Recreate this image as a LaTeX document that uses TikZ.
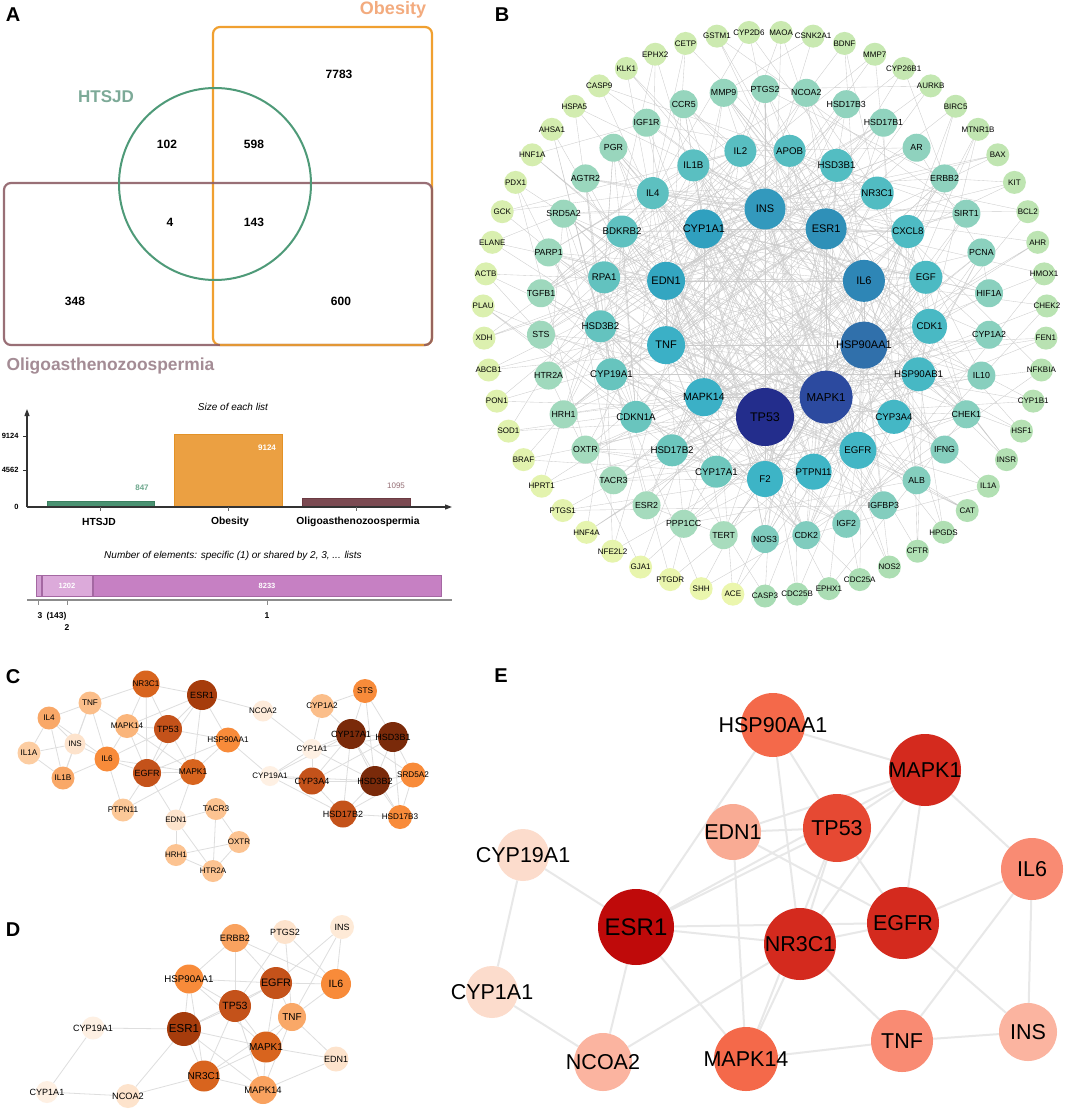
\documentclass[tikz,border=0pt]{standalone}
\usepackage{fontspec}
\setmainfont{Liberation Sans}
\usetikzlibrary{backgrounds,arrows.meta}
\newcommand\myfs[1]{\fontsize{#1}{#1}\selectfont}
% panel A colours
\definecolor{vorange}{HTML}{F0A030}
\definecolor{vbrown}{HTML}{8C5C64}
\definecolor{vgreen}{HTML}{4E9A78}
\definecolor{tobes}{HTML}{F3AB7E}
\definecolor{thts}{HTML}{7DAA98}
\definecolor{toligo}{HTML}{A48C95}
\definecolor{bargreen}{HTML}{4A9272}
\definecolor{bargreenD}{HTML}{3B7F5F}
\definecolor{barorange}{HTML}{EBA042}
\definecolor{barorangeD}{HTML}{E39227}
\definecolor{barbrown}{HTML}{7B4A52}
\definecolor{barbrownD}{HTML}{6B3A42}
\definecolor{lil1}{HTML}{D3A0D3}
\definecolor{lil2}{HTML}{DCAADA}
\definecolor{lil3}{HTML}{C680C3}
\definecolor{lilD}{HTML}{A468A2}
% panel B colours
\definecolor{ogreen}{HTML}{A8DCB4}
\definecolor{oyellow}{HTML}{EBF6AD}
\definecolor{mdark}{HTML}{7FCCBE}
\definecolor{mlight}{HTML}{A8DCBD}
\definecolor{rdark}{HTML}{3DB4C6}
\definecolor{rlight}{HTML}{6EC7BD}
% panels C, D oranges
\definecolor{or0}{HTML}{FEF0E3}
\definecolor{or1}{HTML}{FDE3CC}
\definecolor{or2}{HTML}{FCC898}
\definecolor{or3}{HTML}{F9A868}
\definecolor{or4}{HTML}{F88B3A}
\definecolor{or5}{HTML}{D8641E}
\definecolor{or6}{HTML}{C4521A}
\definecolor{or7}{HTML}{A63C0C}
\definecolor{or8}{HTML}{7A2A0A}
% panel E reds
\definecolor{re0}{HTML}{FCDCCC}
\definecolor{re1}{HTML}{FBB4A0}
\definecolor{re2}{HTML}{F9AB94}
\definecolor{re3}{HTML}{F98B73}
\definecolor{re4}{HTML}{F4694A}
\definecolor{re5}{HTML}{E64933}
\definecolor{re6}{HTML}{D42A1E}
\definecolor{re7}{HTML}{BF0A0A}
\newcommand\pn[7]{\node[pnode, minimum size=#5, fill=#6, label={[font=\myfs{#7}]center:#2}] (#1) at (#3,#4) {};}
\begin{document}
\begin{tikzpicture}[x=1pt,y=-1pt,
  pnode/.style={circle,inner sep=0pt,draw=none},
  bedge/.style={draw=black!20,line width=0.35pt},
  cedge/.style={draw=black!13,line width=0.8pt},
  eedge/.style={draw=black!9,line width=2pt},
  plabel/.style={font=\bfseries\myfs{20}},
  num/.style={font=\bfseries\myfs{12}},
  small/.style={font=\bfseries\myfs{8}}]
\useasboundingbox (0,0) rectangle (1065,1110);

% ================= Panel A =================
\node[plabel] (lA) at (13,15) {A};
\draw[vorange,line width=2.2pt,rounded corners=7pt] (213,27) rectangle (432,345);
\draw[vbrown,line width=2.2pt,rounded corners=7pt,opacity=.88] (4,183) rectangle (432,345);
\draw[vorange,line width=2.2pt,opacity=.85] (220,345) -- (424,345);
\draw[vgreen,line width=2pt] (215,184) circle[radius=96pt];
\node[text=tobes,font=\bfseries\myfs{18},anchor=base] (tob) at (393,15) {Obesity};
\node[text=thts,font=\bfseries\myfs{17},anchor=base] (tht) at (106,103) {HTSJD};
\node[text=toligo,font=\bfseries\myfs{17.4},anchor=base west] (tol) at (3,370) {Oligoasthenozoospermia};
\node[num] (n1) at (339,74) {7783};
\node[num] (n2) at (167,144) {102};
\node[num] (n3) at (254,144) {598};
\node[num] (n4) at (170,222) {4};
\node[num] (n5) at (254,222) {143};
\node[num] (n6) at (75,301) {348};
\node[num] (n7) at (341,301) {600};

% bar chart
\node[font=\itshape\myfs{10}] (t1) at (233,407) {Size of each list};
\fill[bargreen,draw=bargreenD,line width=0.6pt] (47,501) rectangle (154,507);
\fill[barorange,draw=barorangeD,line width=0.6pt] (174,434) rectangle (282,507);
\fill[barbrown,draw=barbrownD,line width=0.6pt] (302,498) rectangle (410,507);
\draw[black!80,line width=1.2pt,-{Triangle[length=7pt,width=5pt]}] (27,507) -- (27,409);
\draw[black!80,line width=1.2pt,-{Triangle[length=7pt,width=5pt]}] (27,507) -- (452,507);
\draw[black!80,line width=0.8pt] (23,436) -- (27,436) (23,470) -- (27,470);
\draw[black!60,line width=0.6pt] (100,507) -- (100,511) (228,507) -- (228,511) (356,507) -- (356,511);
\node[small,anchor=east,font=\bfseries\myfs{7.5}] (y1) at (22,436) {9124};
\node[small,anchor=east,font=\bfseries\myfs{7.5}] (y2) at (22,470) {4562};
\node[small,anchor=east,font=\bfseries\myfs{7.5}] (y3) at (22,507) {0};
\node[font=\bfseries\myfs{8},text=bargreen!80] (v1) at (142,488) {847};
\node[font=\bfseries\myfs{8},text=white] (v2) at (267,448) {9124};
\node[font=\myfs{8},text=barbrown!80] (v3) at (396,486) {1095};
\node[font=\bfseries\myfs{10.3}] (x1) at (99,522) {HTSJD};
\node[font=\bfseries\myfs{10.3}] (x2) at (230,522) {Obesity};
\node[font=\bfseries\myfs{10.3}] (x3) at (358,522) {Oligoasthenozoospermia};

\node[font=\itshape\myfs{10}] (t2) at (233,556) {Number of elements: specific (1) or shared by 2, 3, ... lists};
\fill[lil1,draw=lilD,line width=0.5pt] (36,575) rectangle (41,596);
\fill[lil2,draw=lilD,line width=0.5pt] (42,575) rectangle (92,596);
\fill[lil3,draw=lilD,line width=0.5pt] (93,575) rectangle (441,596);
\node[font=\bfseries\myfs{7.5},text=white] (e1) at (67,586) {1202};
\node[font=\bfseries\myfs{7.5},text=white] (e2) at (267,586) {8233};
\draw[black!45,line width=1.6pt] (27,600) -- (452,600);
\draw[black!45,line width=0.8pt] (38,600) -- (38,605) (67,600) -- (67,605) (267,600) -- (267,605);
\node[font=\bfseries\myfs{8.5},anchor=west] (k1) at (34,616) {3\enspace(143)};
\node[font=\bfseries\myfs{8.5}] (k2) at (67,628) {2};
\node[font=\bfseries\myfs{8.5}] (k3) at (267,616) {1};

% ================= Panel B =================
\node[plabel] (lB) at (502,15) {B};
% inner ring
\foreach \nm/\c/\s/\f [count=\k from 0] in {TP53/232D8C/58/12.5,MAPK1/2C4A9F/53/11.5,HSP90AA1/3070AB/47/11,IL6/2E86B6/42/11,ESR1/2F90B8/41/11,INS/3399BD/41/11,CYP1A1/30A0BF/39/11,EDN1/33A6C1/38/11,TNF/3BB0C6/38/11,MAPK14/3BB0C6/38/10.5}{
  \pgfmathsetmacro\ang{270+\k*36}
  \definecolor{cur}{HTML}{\c}
  \node[pnode,minimum size=\s,fill=cur,label={[font=\myfs{\f}]center:\nm}] (b\k) at ({765+104*cos(\ang)},{313-104*sin(\ang)}) {};
}
% second ring
\foreach \nm/\s [count=\k from 0] in {F2/36,PTPN11/36,EGFR/37,CYP3A4/34,HSP90AB1/34,CDK1/35,EGF/33,CXCL8/33,NR3C1/33,HSD3B1/33,APOB/32,IL2/32,IL1B/32,IL4/32,BDKRB2/32,RPA1/32,HSD3B2/32,CYP19A1/32,CDKN1A/32,HSD17B2/32,CYP17A1/32}{
  \pgfmathsetmacro\ang{270+\k*17.142857}
  \pgfmathtruncatemacro\p{100-\k*5}
  \pgfmathtruncatemacro\id{\k+10}
  \node[pnode,minimum size=\s,fill=rdark!\p!rlight,label={[font=\myfs{9.7}]center:\nm}] (b\id) at ({765+165*cos(\ang)},{314-165*sin(\ang)}) {};
}
% middle ring
\foreach \nm [count=\k from 0] in {NOS3,CDK2,IGF2,IGFBP3,ALB,IFNG,CHEK1,IL10,CYP1A2,HIF1A,PCNA,SIRT1,ERBB2,AR,HSD17B1,HSD17B3,NCOA2,PTGS2,MMP9,CCR5,IGF1R,PGR,AGTR2,SRD5A2,PARP1,TGFB1,STS,HTR2A,HRH1,OXTR,TACR3,ESR2,PPP1CC,TERT}{
  \pgfmathsetmacro\ang{270+\k*10.588235}
  \pgfmathtruncatemacro\p{100-\k*3}
  \pgfmathtruncatemacro\id{\k+31}
  \node[pnode,minimum size=28,fill=mdark!\p!mlight,label={[font=\myfs{8.8}]center:\nm}] (b\id) at ({765+225*cos(\ang)},{314-225*sin(\ang)}) {};
}
% outer ring
\foreach \nm [count=\k from 0] in {CASP3,CDC25B,EPHX1,CDC25A,NOS2,CFTR,HPGDS,CAT,IL1A,INSR,HSF1,CYP1B1,NFKBIA,FEN1,CHEK2,HMOX1,AHR,BCL2,KIT,BAX,MTNR1B,BIRC5,AURKB,CYP26B1,MMP7,BDNF,CSNK2A1,MAOA,CYP2D6,GSTM1,CETP,EPHX2,KLK1,CASP9,HSPA5,AHSA1,HNF1A,PDX1,GCK,ELANE,ACTB,PLAU,XDH,ABCB1,PON1,SOD1,BRAF,HPRT1,PTGS1,HNF4A,NFE2L2,GJA1,PTGDR,SHH,ACE}{
  \pgfmathsetmacro\ang{270+\k*6.545454}
  \pgfmathtruncatemacro\p{100-\k*1.85185}
  \pgfmathtruncatemacro\id{\k+65}
  \node[pnode,minimum size=23,fill=ogreen!\p!oyellow,label={[font=\myfs{8}]center:\nm}] (b\id) at ({765+282*cos(\ang)},{314-282*sin(\ang)}) {};
}

% ================= Panel C =================
\node[plabel] (lC) at (13,677) {C};
\pn{cNR}{NR3C1}{146}{684}{27}{or5}{8.2}
\pn{cESR}{ESR1}{202}{695}{30}{or7}{9}
\pn{cTNF}{TNF}{90}{703}{23}{or2!70!or3}{8.2}
\pn{cIL4}{IL4}{49}{718}{23}{or3}{8.2}
\pn{cMK14}{MAPK14}{127}{726}{24}{or2!40!or3}{8.2}
\pn{cTP}{TP53}{168}{729}{28}{or6}{9}
\pn{cHSP}{HSP90AA1}{228}{740}{25}{or4}{8.2}
\pn{cNCOA}{NCOA2}{263}{711}{21}{or0!60!or1}{8}
\pn{cINS}{INS}{75}{744}{21}{or1}{8}
\pn{cIL1A}{IL1A}{29}{753}{23}{or2!80!or1}{8.2}
\pn{cIL6}{IL6}{107}{759}{25}{or4}{8.2}
\pn{cEGFR}{EGFR}{147}{773}{28}{or6}{9}
\pn{cMK1}{MAPK1}{193}{772}{26}{or5}{8.4}
\pn{cIL1B}{IL1B}{63}{778}{23}{or3}{8.2}
\pn{cPTP}{PTPN11}{123}{810}{23}{or2}{8.2}
\pn{cEDN}{EDN1}{176}{820}{21}{or1}{8}
\pn{cTAC}{TACR3}{216}{809}{22}{or2!85!or3}{8.2}
\pn{cOXT}{OXTR}{239}{842}{22}{or2!85!or3}{8}
\pn{cHRH}{HRH1}{176}{855}{22}{or2!85!or3}{8}
\pn{cHTR}{HTR2A}{213}{871}{22}{or2!85!or3}{8}
\pn{cSTS}{STS}{365}{691}{24}{or4}{8.2}
\pn{cC1A2}{CYP1A2}{322}{706}{24}{or2!70!or3}{8.2}
\pn{cC17}{CYP17A1}{351}{734}{30}{or8}{9}
\pn{cH3B1}{HSD3B1}{393}{737}{30}{or8}{9}
\pn{cC1A1}{CYP1A1}{312}{749}{20}{or0}{8}
\pn{cC19}{CYP19A1}{270}{776}{20}{or0}{8}
\pn{cC3A4}{CYP3A4}{312}{781}{27}{or6}{9}
\pn{cH3B2}{HSD3B2}{375}{781}{30}{or8}{9}
\pn{cSRD}{SRD5A2}{413}{775}{25}{or4}{8.2}
\pn{cH17B2}{HSD17B2}{343}{814}{27}{or6}{9}
\pn{cH17B3}{HSD17B3}{400}{817}{24}{or4}{8.2}

% ================= Panel D =================
\node[plabel] (lD) at (13,930) {D};
\pn{dERBB2}{ERBB2}{235}{938}{28}{or3!80!or4}{9.2}
\pn{dPTGS2}{PTGS2}{285}{932}{24}{or1}{9}
\pn{dINS}{INS}{342}{927}{24}{or0!50!or1}{9}
\pn{dHSP}{HSP90AA1}{189}{979}{29}{or4}{9.7}
\pn{dEGFR}{EGFR}{276}{983}{32}{or6}{10.8}
\pn{dIL6}{IL6}{336}{984}{30}{or4}{10.5}
\pn{dTP53}{TP53}{235}{1006}{32}{or6}{10.5}
\pn{dTNF}{TNF}{292}{1017}{28}{or3}{10}
\pn{dCYP19A1}{CYP19A1}{93}{1028}{23}{or0}{9.1}
\pn{dESR1}{ESR1}{184}{1029}{34}{or7}{11.5}
\pn{dMAPK1}{MAPK1}{266}{1047}{31}{or5}{10}
\pn{dEDN1}{EDN1}{336}{1059}{25}{or1}{9}
\pn{dNR3C1}{NR3C1}{204}{1076}{31}{or5}{10}
\pn{dMAPK14}{MAPK14}{263}{1090}{28}{or3!80!or4}{9.5}
\pn{dCYP1A1}{CYP1A1}{47}{1092}{22}{or0}{9}
\pn{dNCOA2}{NCOA2}{128}{1096}{24}{or1}{9.2}

% ================= Panel E =================
\node[plabel] (lE) at (501,676) {E};
\pn{eHSP}{HSP90AA1}{773}{725}{64}{re4}{21.5}
\pn{eMAPK1}{MAPK1}{925}{770}{72}{re6}{21.5}
\pn{eEDN1}{EDN1}{733}{832}{56}{re2}{21.5}
\pn{eTP53}{TP53}{837}{828}{68}{re5}{21.5}
\pn{eCYP19A1}{CYP19A1}{523}{855}{52}{re0}{21.5}
\pn{eIL6}{IL6}{1032}{869}{62}{re3}{21.5}
\pn{eESR1}{ESR1}{636}{927}{76}{re7}{24}
\pn{eEGFR}{EGFR}{903}{923}{72}{re6}{21.5}
\pn{eNR3C1}{NR3C1}{800}{944}{72}{re6}{21.5}
\pn{eCYP1A1}{CYP1A1}{492}{992}{52}{re0}{21.5}
\pn{eNCOA2}{NCOA2}{603}{1062}{58}{re1}{21.5}
\pn{eMAPK14}{MAPK14}{746}{1059}{64}{re4}{21.5}
\pn{eTNF}{TNF}{902}{1041}{62}{re3}{21.5}
\pn{eINS}{INS}{1028}{1032}{58}{re1}{21.5}

% ================= edges (behind) =================
\begin{pgfonlayer}{background}
\fill[white] (0,0) rectangle (1065,1110);
% B
\pgfmathsetseed{4242}
\foreach \i in {0,...,8}{
  \pgfmathtruncatemacro\s{\i+1}
  \foreach \j in {\s,...,9}{\draw[bedge] (b\i.center) -- (b\j.center);}
}
\foreach \i in {10,...,119}{
  \pgfmathrandominteger{\xa}{0}{9}
  \pgfmathrandominteger{\xb}{0}{30}
  \pgfmathrandominteger{\xc}{10}{64}
  \draw[bedge] (b\i.center) -- (b\xa.center) (b\i.center) -- (b\xb.center) (b\i.center) -- (b\xc.center);
}
\foreach \i in {0,...,30}{
  \foreach \j in {1,...,6}{
    \pgfmathrandominteger{\xa}{0}{64}
    \draw[bedge] (b\i.center) -- (b\xa.center);
  }
}
% C
\foreach \a/\b in {cTNF/cIL4,cTNF/cINS,cTNF/cMK14,cTNF/cIL1B,cTNF/cIL6,cTNF/cNR,cIL4/cIL1A,cIL4/cINS,cIL4/cIL1B,cIL4/cIL6,cIL1A/cINS,cIL1A/cIL1B,cINS/cIL6,cINS/cIL1B,cIL1B/cIL6,cIL6/cEGFR,cIL6/cMK14,cIL6/cTP,cIL6/cPTP,cIL6/cMK1,cNR/cESR,cNR/cMK14,cNR/cTP,cNR/cEGFR,cESR/cTP,cESR/cHSP,cESR/cNCOA,cESR/cEGFR,cESR/cMK1,cESR/cMK14,cTP/cMK14,cTP/cEGFR,cTP/cMK1,cTP/cHSP,cMK14/cEGFR,cMK14/cMK1,cEGFR/cMK1,cEGFR/cPTP,cEGFR/cEDN,cEGFR/cHSP,cMK1/cHSP,cMK1/cEDN,cHSP/cC19,cNCOA/cC1A1,cEDN/cTAC,cEDN/cHRH,cEDN/cHTR,cTAC/cOXT,cTAC/cHTR,cHRH/cOXT,cHRH/cHTR,cOXT/cHTR,cPTP/cMK1,cC1A2/cC1A1,cC1A2/cC17,cC1A2/cSTS,cSTS/cC17,cSTS/cH3B1,cSTS/cH3B2,cC1A1/cC17,cC1A1/cC3A4,cC1A1/cC19,cC1A1/cH3B2,cC1A1/cH3B1,cC19/cC3A4,cC19/cC17,cC19/cH3B2,cC19/cH17B2,cC3A4/cC17,cC3A4/cH3B2,cC3A4/cH17B2,cC3A4/cH3B1,cC17/cH3B1,cC17/cH3B2,cC17/cSRD,cC17/cH17B2,cH3B1/cH3B2,cH3B1/cSRD,cH3B1/cH17B3,cH3B2/cSRD,cH3B2/cH17B2,cH3B2/cH17B3,cH17B2/cH17B3,cSRD/cH17B3,cSRD/cH17B2,cC17/cH17B3}
  {\draw[cedge] (\a) -- (\b);}
% D
\foreach \a/\b in {dCYP1A1/dCYP19A1,dCYP1A1/dNCOA2,dCYP19A1/dESR1,dNCOA2/dESR1,dNCOA2/dNR3C1,dESR1/dHSP,dESR1/dTP53,dESR1/dNR3C1,dESR1/dMAPK1,dESR1/dMAPK14,dESR1/dEGFR,dHSP/dERBB2,dHSP/dEGFR,dHSP/dTP53,dHSP/dNR3C1,dHSP/dMAPK1,dERBB2/dTP53,dERBB2/dEGFR,dERBB2/dIL6,dPTGS2/dTNF,dPTGS2/dTP53,dPTGS2/dIL6,dINS/dIL6,dINS/dTNF,dINS/dEGFR,dEGFR/dTP53,dEGFR/dIL6,dEGFR/dMAPK1,dEGFR/dTNF,dIL6/dTNF,dTP53/dMAPK1,dTP53/dNR3C1,dTP53/dMAPK14,dTNF/dMAPK1,dTNF/dEDN1,dTNF/dNR3C1,dTNF/dMAPK14,dMAPK1/dEDN1,dMAPK1/dNR3C1,dMAPK14/dEDN1,dMAPK14/dNR3C1,dMAPK14/dMAPK1}
  {\draw[cedge] (\a) -- (\b);}
% E
\foreach \a/\b in {eCYP19A1/eESR1,eCYP19A1/eCYP1A1,eCYP1A1/eNCOA2,eNCOA2/eESR1,eNCOA2/eNR3C1,eESR1/eHSP,eESR1/eMAPK14,eESR1/eNR3C1,eESR1/eEGFR,eESR1/eMAPK1,eESR1/eTP53,eEDN1/eMAPK14,eEDN1/eTP53,eEDN1/eMAPK1,eEDN1/eEGFR,eHSP/eMAPK1,eHSP/eTP53,eHSP/eNR3C1,eMAPK1/eTP53,eMAPK1/eNR3C1,eMAPK1/eEGFR,eMAPK1/eIL6,eTP53/eNR3C1,eTP53/eEGFR,eNR3C1/eTNF,eNR3C1/eMAPK14,eNR3C1/eEGFR,eEGFR/eIL6,eEGFR/eINS,eTNF/eIL6,eTNF/eINS,eIL6/eINS,eTNF/eMAPK14,eMAPK14/eTP53}
  {\draw[eedge] (\a) -- (\b);}
\end{pgfonlayer}
\end{tikzpicture}
\end{document}
